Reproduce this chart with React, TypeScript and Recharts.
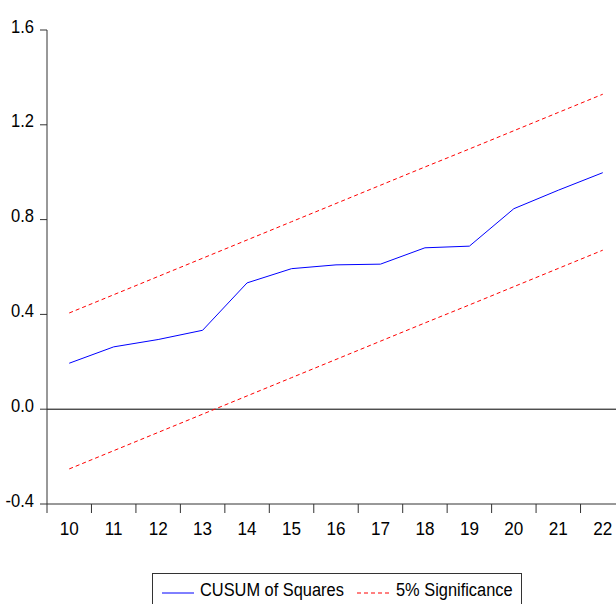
import React from 'react';
import { LineChart, Line, XAxis, YAxis, ReferenceLine, Legend } from 'recharts';

const categories = ['10', '11', '12', '13', '14', '15', '16', '17', '18', '19', '20', '21', '22'];
const cusumSquares = [0.194, 0.263, 0.294, 0.333, 0.533, 0.593, 0.609, 0.612, 0.681, 0.688, 0.846, 0.924, 0.998];
const upperBound = [0.406, 0.483, 0.560, 0.637, 0.714, 0.791, 0.868, 0.945, 1.022, 1.098, 1.175, 1.252, 1.329];
const lowerBound = [-0.252, -0.175, -0.098, -0.021, 0.056, 0.133, 0.210, 0.287, 0.364, 0.440, 0.517, 0.594, 0.671];
const yTicks = [-0.4, 0.0, 0.4, 0.8, 1.2, 1.6];
const seriesNames = ['CUSUM of Squares', '5% Significance'];

const data = categories.map((c, i) => ({
  cat: c,
  cusum: cusumSquares[i],
  upper: upperBound[i],
  lower: lowerBound[i],
}));

const W = 640;
const H = 604;
const MARGIN = { top: 30, right: 15, left: 0, bottom: 0 };
const Y_W = 47;
const X_H = 100;
const HALF = (W - MARGIN.left - MARGIN.right - Y_W) / categories.length / 2;
const FONT = '"Liberation Sans", Arial, sans-serif';
const AXIS = '#333333';

const XTick = (props: any) => {
  const { x, y, payload } = props;
  return (
    <g>
      <line x1={x - HALF} y1={y} x2={x - HALF} y2={y + 9} stroke={AXIS} strokeWidth={1} />
      <text
        transform={`translate(${x},${y + 31}) scale(0.9,1)`}
        x={0}
        y={0}
        textAnchor="middle"
        fontSize={19}
        fontFamily={FONT}
        fill="#000"
      >
        {payload.value}
      </text>
    </g>
  );
};

const YTick = (props: any) => {
  const { x, y, payload } = props;
  return (
    <text
      transform={`translate(${x},${y + 2.5}) scale(0.92,1)`}
      x={0}
      y={0}
      textAnchor="end"
      fontSize={18}
      fontFamily={FONT}
      fill="#000"
    >
      {Number(payload.value).toFixed(1)}
    </text>
  );
};

const spanStyle = (left: number): React.CSSProperties => ({
  position: 'absolute',
  left,
  top: 6,
  whiteSpace: 'nowrap',
  transform: 'scaleX(0.91)',
  transformOrigin: 'left center',
});

const LegendBox = () => (
  <div
    style={{
      position: 'relative',
      width: 370,
      height: 40,
      border: `1px solid ${AXIS}`,
      boxSizing: 'border-box',
      fontFamily: FONT,
      fontSize: 18,
      color: '#000',
      background: '#fff',
    }}
  >
    <svg width={32} height={4} style={{ position: 'absolute', left: 9, top: 17 }}>
      <line x1={0} y1={2} x2={32} y2={2} stroke="#0000ff" strokeWidth={1} />
    </svg>
    <span style={spanStyle(47)}>{seriesNames[0]}</span>
    <svg width={32} height={4} style={{ position: 'absolute', left: 204, top: 17 }}>
      <line x1={0} y1={2} x2={32} y2={2} stroke="#ff0000" strokeWidth={1} strokeDasharray="4 3" />
    </svg>
    <span style={spanStyle(243)}>{seriesNames[1]}</span>
  </div>
);

export default function App() {
  return (
    <div style={{ position: 'absolute', left: 0, top: 0, width: 616, height: 604, overflow: 'hidden', background: '#fff' }}>
      <LineChart width={W} height={H} data={data} margin={MARGIN}>
        <XAxis
          dataKey="cat"
          height={X_H}
          interval={0}
          padding={{ left: HALF, right: HALF }}
          tickLine={false}
          tickSize={0}
          tickMargin={0}
          axisLine={{ stroke: AXIS, strokeWidth: 1 }}
          tick={<XTick />}
        />
        <YAxis
          width={Y_W}
          domain={[-0.4, 1.6]}
          ticks={yTicks}
          type="number"
          allowDataOverflow
          tickSize={7}
          tickMargin={6}
          axisLine={{ stroke: AXIS, strokeWidth: 1 }}
          tickLine={{ stroke: AXIS, strokeWidth: 1 }}
          tick={<YTick />}
        />
        <ReferenceLine y={0} stroke="#000" strokeWidth={1} />
        <Line dataKey="upper" stroke="#ff0000" strokeWidth={1} strokeDasharray="4 3" dot={false} isAnimationActive={false} legendType="none" />
        <Line dataKey="lower" stroke="#ff0000" strokeWidth={1} strokeDasharray="4 3" dot={false} isAnimationActive={false} legendType="none" />
        <Line dataKey="cusum" stroke="#0000ff" strokeWidth={1} dot={false} isAnimationActive={false} />
        <Legend
          layout="horizontal"
          verticalAlign="middle"
          align="center"
          content={<LegendBox />}
          wrapperStyle={{ left: 152, top: 573, width: 370, height: 40 }}
        />
      </LineChart>
    </div>
  );
}
